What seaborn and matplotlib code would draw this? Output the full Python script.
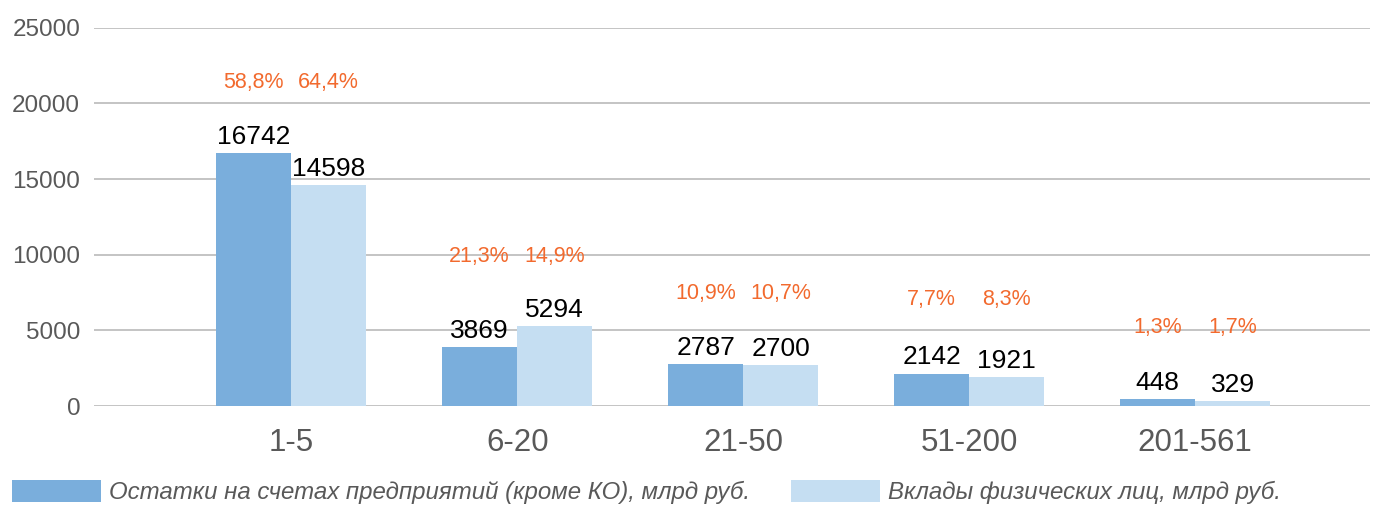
import numpy as np
import pandas as pd
import seaborn as sns
import matplotlib.pyplot as plt
from matplotlib.patches import Patch

# data
groups = ['1-5', '6-20', '21-50', '51-200', '201-561']
series = ['Остатки на счетах предприятий (кроме КО), млрд руб.',
          'Вклады физических лиц, млрд руб.']
firms = [16742, 3869, 2787, 2142, 448]
people = [14598, 5294, 2700, 1921, 329]
firms_pct = ['58,8%', '21,3%', '10,9%', '7,7%', '1,3%']
people_pct = ['64,4%', '14,9%', '10,7%', '8,3%', '1,7%']
pct_level = [21400, 9850, 7470, 7010, 5170]

colors = ['#7AAEDC', '#C5DEF2']
orange = '#F26A2E'
grey = '#595959'

df = pd.DataFrame({
    'group': groups * 2,
    'series': [series[0]] * 5 + [series[1]] * 5,
    'value': firms + people,
})

sns.set_style('white')
plt.rcParams['font.family'] = ['Liberation Sans', 'DejaVu Sans']

fig = plt.figure(figsize=(13.84, 5.05), dpi=100)
ax = fig.add_axes([0.068, 0.196, 0.922, 0.749])

sns.barplot(data=df, x='group', y='value', hue='series', order=groups,
            hue_order=series, palette=colors, width=0.664, errorbar=None,
            saturation=1, legend=False, linewidth=0, ax=ax)

for cont in ax.containers:
    ax.bar_label(cont, fmt='%d', padding=3, fontsize=19, color='black')

# percentage labels above each bar
for cont, pct in zip(ax.containers, [firms_pct, people_pct]):
    for bar, txt, lev in zip(cont, pct, pct_level):
        ax.text(bar.get_x() + bar.get_width() / 2, lev, txt, ha='center',
                va='center', fontsize=15.5, color=orange)

ax.set_ylim(0, 25000)
ax.set_xlim(-0.872, 4.774)
ax.set_yticks(range(0, 25001, 5000))
ax.yaxis.grid(True, color='#BFBFBF', linewidth=1.3)
ax.set_axisbelow(True)
for s in ax.spines.values():
    s.set_visible(False)
ax.tick_params(axis='y', length=0, pad=10, labelsize=17.5, labelcolor=grey)
ax.tick_params(axis='x', length=0, pad=16, labelsize=22.5, labelcolor=grey)
ax.set_xlabel('')
ax.set_ylabel('')

handles = [Patch(facecolor=c, edgecolor='none') for c in colors]
leg = fig.legend(handles, series, loc='center left',
                 bbox_to_anchor=(12 / 1384, 1 - 492 / 505),
                 ncol=2, frameon=False, borderpad=0, borderaxespad=0,
                 handlelength=3.7, handleheight=1.05,
                 handletextpad=0.35, columnspacing=1.7,
                 prop={'style': 'italic', 'size': 17.3})
for t in leg.get_texts():
    t.set_color(grey)

fig.savefig('out.png', dpi=100)
